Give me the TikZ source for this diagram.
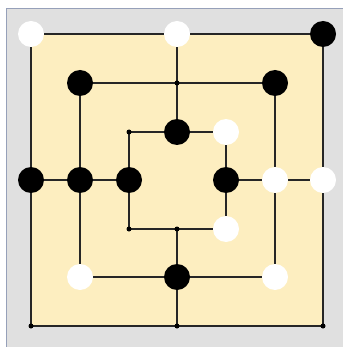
\documentclass[tikz,border=0pt]{standalone}
\definecolor{boardbg}{RGB}{253,238,192}
\definecolor{panelbg}{RGB}{224,224,224}
\definecolor{panelline}{RGB}{150,160,185}
\begin{document}
\begin{tikzpicture}[x=1pt,y=-1pt,
  line/.style={line width=1.1pt,draw=black!85},
  pt/.style={circle,fill=black,inner sep=0pt,minimum size=5pt},
  wpiece/.style={circle,fill=white,inner sep=0pt,minimum size=26pt},
  bpiece/.style={circle,fill=black,inner sep=0pt,minimum size=26pt}]
\useasboundingbox (0,0) rectangle (343,347);
\fill[white] (0,0) rectangle (343,347);
\fill[panelbg] (6,9) rectangle (343,347);
\draw[panelline,line width=1pt] (6,347) -- (6,9) -- (343,9);
\fill[boardbg] (31,34) rectangle (323,326);
% coordinates
\foreach \n/\x/\y in {o1/31/34,o2/177/34,o3/323/34,o4/31/180,o5/323/180,o6/31/326,o7/177/326,o8/323/326,
  m1/80/83,m2/177/83,m3/275/83,m4/80/180,m5/275/180,m6/80/277,m7/177/277,m8/275/277,
  i1/129/132,i2/177/132,i3/226/132,i4/129/180,i5/226/180,i6/129/229,i7/177/229,i8/226/229}
  \coordinate (\n) at (\x,\y);
% lines
\draw[line] (o1) -- (o3) -- (o8) -- (o6) -- cycle;
\draw[line] (m1) -- (m3) -- (m8) -- (m6) -- cycle;
\draw[line] (i1) -- (i3) -- (i8) -- (i6) -- cycle;
\draw[line] (o2) -- (i2);
\draw[line] (i7) -- (o7);
\draw[line] (o4) -- (i4);
\draw[line] (i5) -- (o5);
% empty points
\foreach \n in {m2,i1,i6,i7,o6,o7,o8}
  \node[pt] (p\n) at (\n) {};
% white pieces
\foreach \n in {o1,o2,i3,m5,o5,i8,m6,m8}
  \node[wpiece] (w\n) at (\n) {};
% black pieces
\foreach \n in {o3,m1,m3,i2,o4,m4,i4,i5,m7}
  \node[bpiece] (b\n) at (\n) {};
\end{tikzpicture}
\end{document}
